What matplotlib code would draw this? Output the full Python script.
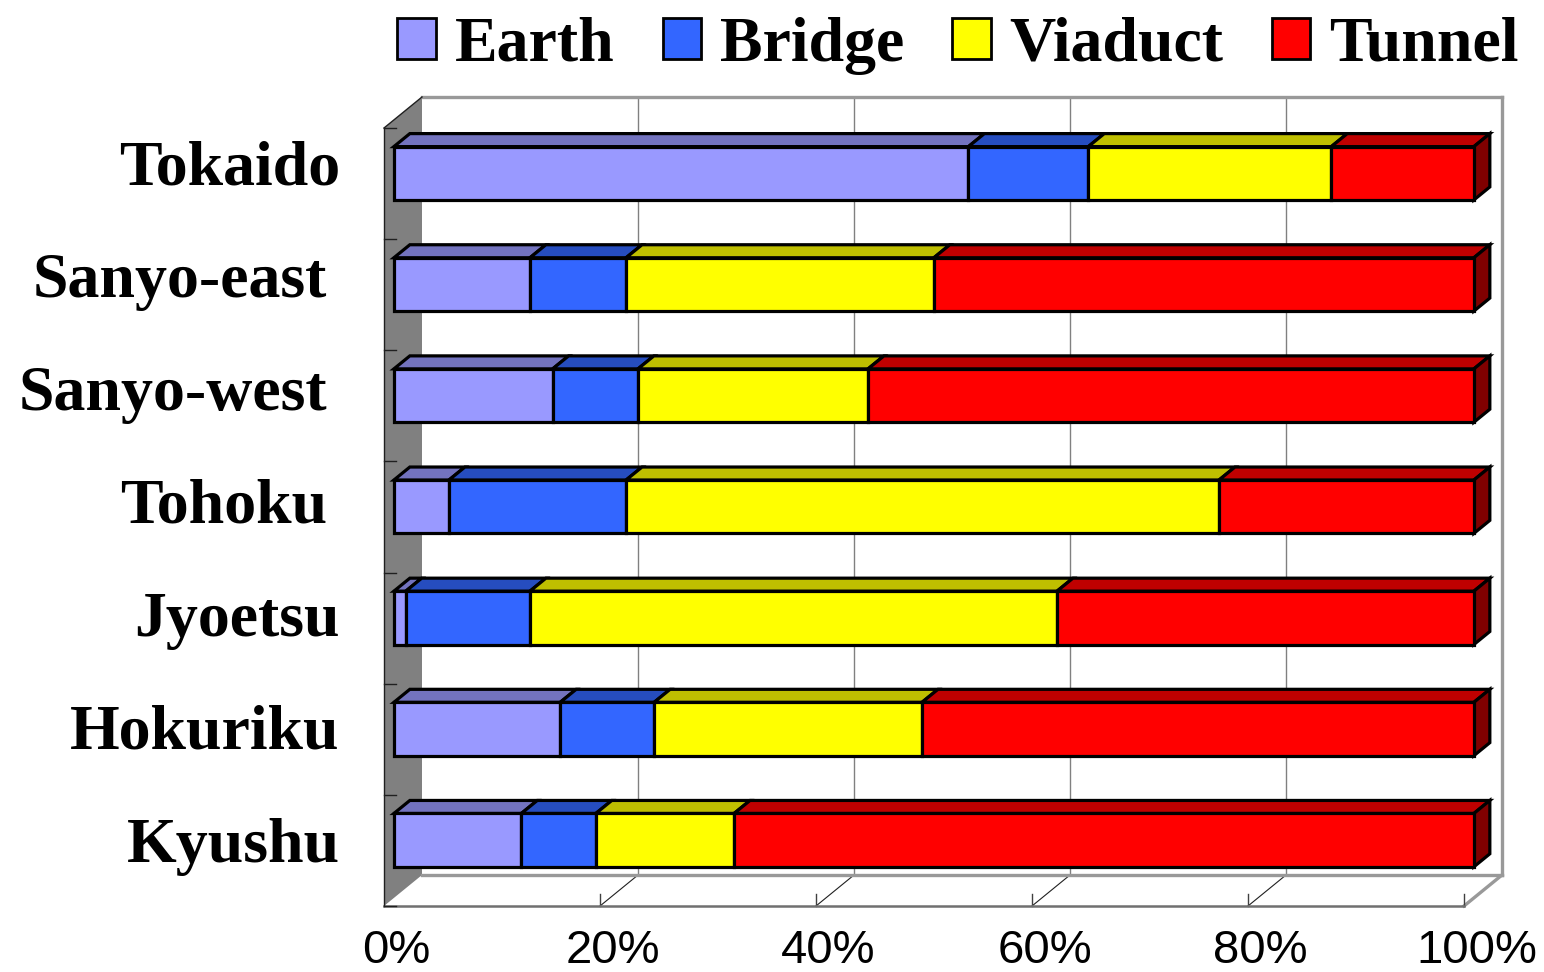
import matplotlib.pyplot as plt
from matplotlib.patches import Polygon, Patch
import numpy as np

# share of each structure type along every Shinkansen line (%)
lines = ["Tokaido", "Sanyo-east ", "Sanyo-west ", "Tohoku ", "Jyoetsu", "Hokuriku", "Kyushu"]
earth = [53.2, 12.6, 14.7, 5.1, 1.1, 15.4, 11.8]
bridge = [11.1, 8.9, 7.9, 16.4, 11.5, 8.7, 6.9]
viaduct = [22.5, 28.5, 21.3, 54.9, 48.8, 24.8, 12.8]
tunnel = [13.2, 50.0, 56.1, 23.6, 38.6, 51.1, 68.5]

series = ["Earth", "Bridge", "Viaduct", "Tunnel"]
colors = ["#9999FF", "#3366FF", "#FFFF00", "#FF0000"]
ticks = [0, 20, 40, 60, 80, 100]
tick_labels = ["0%", "20%", "40%", "60%", "80%", "100%"]

W, H = 1544, 972
fig = plt.figure(figsize=(W / 100, H / 100), dpi=100)
ax = fig.add_axes([384 / W, 66 / H, 1080 / W, 778 / H])
ax.set_xlim(0, 100)
ax.set_ylim(0, len(lines))
ax.axis("off")

# depth of the 3-d box, converted from pixels into data units
px_x = 100 / 1080
px_y = len(lines) / 778
DX, DY = 38 * px_x, 31 * px_y


def proj(x, y, d):
    return (x + d * DX, y + d * DY)


def shade(c, f):
    r, g, b = plt.matplotlib.colors.to_rgb(c)
    return (r * f, g * f, b * f)


def poly(pts, **kw):
    ax.add_patch(Polygon(pts, closed=True, clip_on=False, **kw))


def seg(p, q, **kw):
    ax.plot([p[0], q[0]], [p[1], q[1]], clip_on=False, solid_capstyle="projecting", **kw)


n = len(lines)
grey = "#999999"

# floor and left wall
poly([proj(0, 0, 0), proj(100, 0, 0), proj(100, 0, 1), proj(0, 0, 1)],
     facecolor="white", edgecolor="none", zorder=1)
poly([proj(0, 0, 0), proj(0, n, 0), proj(0, n, 1), proj(0, 0, 1)],
     facecolor="#808080", edgecolor="none", zorder=1)

# back wall gridlines and their continuation on the floor
for t in ticks[1:-1]:
    seg(proj(t, 0, 1), proj(t, n, 1), color="#808080", lw=1.0, zorder=2)
    seg(proj(t, 0, 0), proj(t, 0, 1), color="#202020", lw=0.8, zorder=2)
for t in ticks[1:]:
    seg(proj(t, 0, 0), (t, 12 * px_y), color="#404040", lw=1.0, zorder=3)

# box outline
seg(proj(0, n, 1), proj(100, n, 1), color=grey, lw=2.4, zorder=2)
seg(proj(100, n, 1), proj(100, 0, 1), color=grey, lw=2.4, zorder=2)
seg(proj(0, 0, 1), proj(100, 0, 1), color=grey, lw=2.4, zorder=2)
seg(proj(100, 0, 0), proj(100, 0, 1), color=grey, lw=2.4, zorder=2)
seg(proj(0, 0, 0), proj(100, 0, 0), color="#707070", lw=1.8, zorder=3)
seg(proj(0, 0, 0), proj(0, n, 0), color="#202020", lw=1.0, zorder=3)
seg(proj(0, n, 0), proj(0, n, 1), color="#202020", lw=1.0, zorder=3)
for k in range(n + 1):
    seg((0, k), (12 * px_x, k), color="#202020", lw=1.0, zorder=3)

# stacked 3-d bars
data = np.array([earth, bridge, viaduct, tunnel])
shares = data / data.sum(axis=0) * 100
df, db = 0.26, 0.68
bh = 0.48
for i in range(n):
    yc = n - 1 - i + 0.52
    yb, yt = yc - bh / 2, yc + bh / 2
    left = 0.0
    for j, c in enumerate(colors):
        x0, x1 = left, left + shares[j, i]
        left = x1
        poly([proj(x0, yt, df), proj(x1, yt, df), proj(x1, yt, db), proj(x0, yt, db)],
             facecolor=shade(c, 0.75), edgecolor="black", lw=2.3, joinstyle="miter", zorder=5)
        poly([proj(x0, yb, df), proj(x1, yb, df), proj(x1, yt, df), proj(x0, yt, df)],
             facecolor=c, edgecolor="black", lw=2.3, joinstyle="miter", zorder=6)
        if j == len(colors) - 1:
            poly([proj(x1, yb, df), proj(x1, yb, db), proj(x1, yt, db), proj(x1, yt, df)],
                 facecolor=shade(c, 0.5), edgecolor="black", lw=2.3, joinstyle="miter", zorder=5)

# category labels (trailing spaces kept as a right-hand pad)
label_size = 46
for i, name in enumerate(lines):
    pad = (len(name) - len(name.rstrip())) * 0.2 * label_size
    ax.annotate(name.rstrip(), xy=(-4.1, 0.40 + (n - 1 - i) * 1.016), xytext=(-pad, 0),
                textcoords="offset points", ha="right", va="baseline",
                fontsize=label_size, fontweight="bold", family="Liberation Serif",
                annotation_clip=False)

# percentage axis labels
for t, lab in zip(ticks, tick_labels):
    ax.annotate(lab, xy=(t, -0.51), xytext=(9, 0), textcoords="offset points",
                ha="center", va="baseline", fontsize=34, family="Liberation Sans",
                annotation_clip=False)

handles = [Patch(facecolor=c, edgecolor="black", lw=2) for c in colors]
fig.legend(handles, series, ncol=4, loc="upper center", bbox_to_anchor=(958 / W, 1 - 4 / H),
           frameon=False, prop={"family": "Liberation Serif", "weight": "bold", "size": 46},
           handlelength=0.6, handleheight=0.6, handletextpad=0.3, columnspacing=0.75,
           borderaxespad=0.1, borderpad=0.1)

fig.savefig("out.png", dpi=100)
